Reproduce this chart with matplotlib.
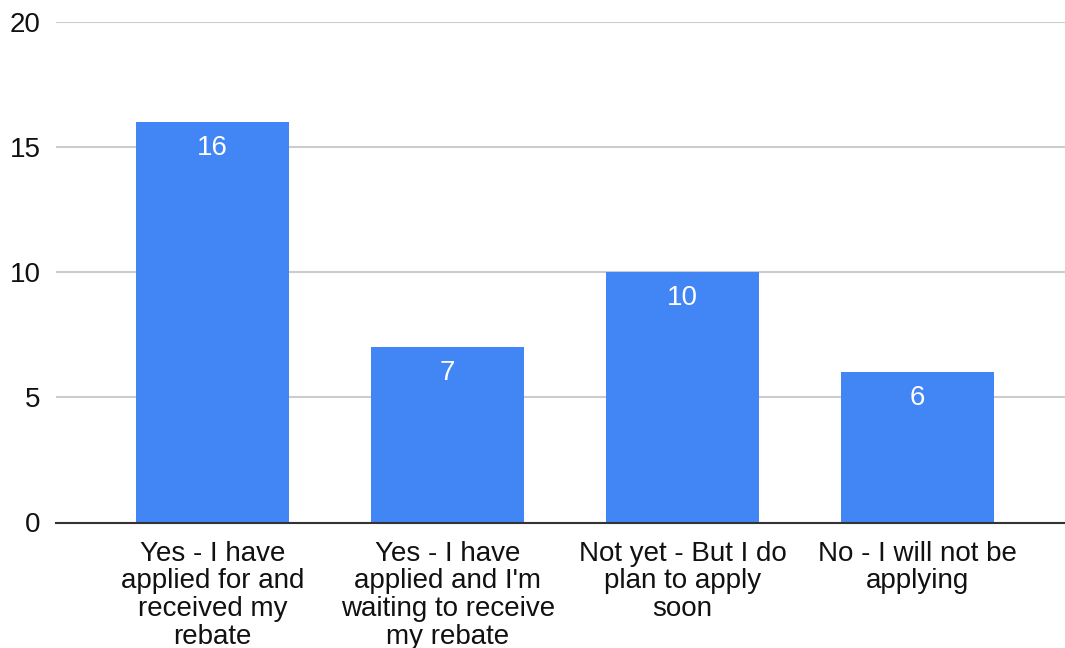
import matplotlib
matplotlib.use("Agg")
import matplotlib.pyplot as plt
import numpy as np

# survey answers and counts
categories = [
    "Yes - I have\napplied for and\nreceived my\nrebate",
    "Yes - I have\napplied and I'm\nwaiting to receive\nmy rebate",
    "Not yet - But I do\nplan to apply\nsoon",
    "No - I will not be\napplying",
]
counts = [16, 7, 10, 6]
yticks = [0, 5, 10, 15, 20]

plt.rcParams['font.family'] = ['Liberation Sans', 'DejaVu Sans']

fig = plt.figure(figsize=(10.65, 6.48), dpi=100)
ax = fig.add_axes([56 / 1065, 125.5 / 648, 1 - 56 / 1065, 500.5 / 648])

x = np.arange(len(categories))
bars = ax.bar(x, counts, width=0.651, color='#4285f4', zorder=3)

# value labels sit inside the top of each bar
for b, v in zip(bars, counts):
    ax.annotate(str(v), (b.get_x() + b.get_width() / 2, v),
                xytext=(0, -18.5), textcoords='offset points',
                ha='center', va='center', color='white', fontsize=20, zorder=4)

ax.set_xlim(-0.667, 3.627)
ax.set_ylim(0, 20)
ax.set_yticks(yticks)
ax.set_xticks(x)
ax.set_xticklabels(categories, fontsize=20, linespacing=1.09, color='#111111')
ax.tick_params(axis='y', length=0, pad=11, labelsize=20, labelcolor='#111111')
ax.tick_params(axis='x', length=0, pad=13)

ax.grid(axis='y', color='#cccccc', linewidth=1.5, zorder=0)
for s in ['top', 'right', 'left']:
    ax.spines[s].set_visible(False)
ax.spines['bottom'].set_color('#333333')
ax.spines['bottom'].set_linewidth(1.5)
ax.spines['bottom'].set_zorder(5)

fig.savefig('out.png', dpi=100)
